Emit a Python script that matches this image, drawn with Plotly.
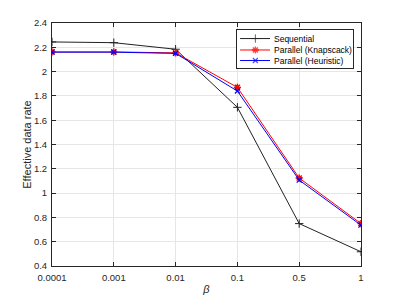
import plotly.graph_objects as go

beta_labels = ["0.0001", "0.001", "0.01", "0.1", "0.5", "1"]
sequential = [2.244, 2.238, 2.184, 1.706, 0.749, 0.517]
knapsack = [2.162, 2.162, 2.154, 1.870, 1.124, 0.749]
heuristic = [2.160, 2.160, 2.150, 1.840, 1.107, 0.736]
series_names = ["Sequential", "Parallel (Knapscack)", "Parallel (Heuristic)"]

FONT = "Liberation Sans, Arial, Helvetica"
styles = [
    dict(color="#222222", symbol="cross-thin-open", size=6, mlw=1),
    dict(color="#ff0000", symbol="asterisk-open", size=6, mlw=1.5),
    dict(color="#0000ff", symbol="x-thin-open", size=5, mlw=1.2),
]

fig = go.Figure()
for name, vals, st in zip(series_names, [sequential, knapsack, heuristic], styles):
    fig.add_trace(go.Scatter(x=beta_labels, y=vals, mode="lines+markers", name=name,
                             line=dict(color=st["color"], width=1),
                             marker=dict(symbol=st["symbol"], size=st["size"],
                                         line=dict(color=st["color"], width=st["mlw"])),
                             showlegend=False))

# custom legend box (pixel-like coordinates inside an inset axis)
LW, LH = 116, 38
row_y = [29.6, 18.0, 7.3]
for name, st, ry in zip(series_names, styles, row_y):
    fig.add_trace(go.Scatter(x=[3.3, 18.6, 33.3], y=[ry, ry, ry], mode="lines+markers",
                             xaxis="x2", yaxis="y2", showlegend=False, hoverinfo="skip",
                             line=dict(color=st["color"], width=1),
                             marker=dict(symbol=st["symbol"], size=[0, st["size"], 0],
                                         line=dict(color=st["color"], width=st["mlw"]))))
    fig.add_annotation(x=35, y=ry, xref="x2", yref="y2", text=name, showarrow=False,
                       xanchor="left", yanchor="middle",
                       font=dict(family=FONT, size=8.5, color="#000000"))

axis_common = dict(showline=True, linecolor="#262626", linewidth=1, mirror="ticks",
                   ticks="inside", ticklen=4, tickcolor="#262626",
                   showgrid=True, gridcolor="#e6e6e6", gridwidth=1,
                   tickfont=dict(family=FONT, size=9.5, color="#262626"),
                   zeroline=False, automargin=False)

fig.update_layout(
    xaxis=dict(type="category", range=[0, 5], ticklabelstandoff=3,
               title=dict(text="<i>β</i>", standoff=2, font=dict(family=FONT, size=11, color="#262626")),
               **axis_common),
    yaxis=dict(range=[0.4, 2.4], dtick=0.2, tickformat="~g", ticklabelstandoff=2,
               title=dict(text="Effective data rate", standoff=0,
                          font=dict(family=FONT, size=11, color="#262626")),
               **axis_common),
    xaxis2=dict(domain=[0.598, 0.973], anchor="y2", range=[0, LW], showline=True, mirror=True,
                linecolor="#262626", linewidth=1, showgrid=False, zeroline=False,
                showticklabels=False, ticks="", fixedrange=True),
    yaxis2=dict(domain=[0.816, 0.970], anchor="x2", range=[0, LH], showline=True, mirror=True,
                linecolor="#262626", linewidth=1, showgrid=False, zeroline=False,
                showticklabels=False, ticks="", fixedrange=True),
    width=391, height=291,
    margin=dict(l=44, r=38, t=15, b=33),
    paper_bgcolor="white", plot_bgcolor="white",
    showlegend=False,
)

fig.write_html("out.html")
